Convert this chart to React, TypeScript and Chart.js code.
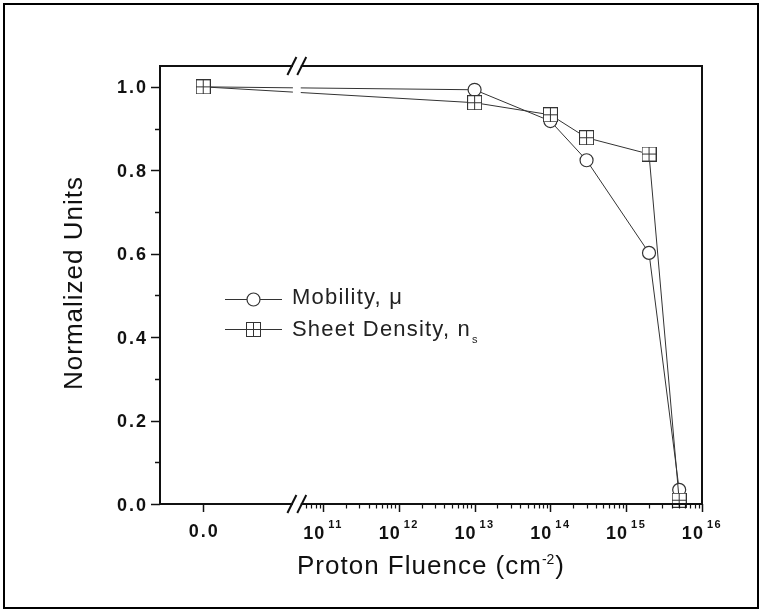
import React, { useEffect, useRef } from 'react';
import { Chart, registerables } from 'chart.js';

Chart.register(...registerables);

// ---- data ----
const fluence = [0, 1e13, 1e14, 3e14, 2e15, 5e15];
const mobility = [1.0, 0.993, 0.918, 0.824, 0.602, 0.034];
const sheetDensity = [1.0, 0.962, 0.933, 0.878, 0.839, 0.009];

const yMajorTicks = [0, 0.2, 0.4, 0.6, 0.8, 1.0];
const yMinorTicks = [0.1, 0.3, 0.5, 0.7, 0.9];
const xDecades = [11, 12, 13, 14, 15, 16];
const xZeroLabel = '0.0';
const seriesNames = ['Mobility, \u03bc', 'Sheet Density, n'];
const seriesSubscripts = ['', 's'];
const xTitle = 'Proton Fluence (cm';
const xTitleSup = '-2';
const yTitle = 'Normalized Units';

// ---- broken axis mapping: zero segment + log10 segment on one linear scale ----
const X_MIN = 8.85;
const X_MAX = 16.0;
const ZERO_AT = 9.42;
const BREAK_LO = 10.59;
const BREAK_HI = 10.72;
const Y_MIN = 0;
const Y_MAX = 1.05;
const toAxis = (f: number) => (f === 0 ? ZERO_AT : Math.log10(f));

const FONT = "'Liberation Sans', Arial, Helvetica, sans-serif";
const LINE = '#333333';

function makeCrossSquare(size: number) {
  const c = document.createElement('canvas');
  c.width = size;
  c.height = size;
  const g = c.getContext('2d')!;
  g.fillStyle = '#ffffff';
  g.fillRect(0.5, 0.5, size - 1, size - 1);
  g.strokeStyle = LINE;
  g.lineWidth = 1;
  g.strokeRect(0.5, 0.5, size - 1, size - 1);
  const m = Math.floor(size / 2) + 0.5;
  g.beginPath();
  g.moveTo(m, 0.5);
  g.lineTo(m, size - 0.5);
  g.moveTo(0.5, m);
  g.lineTo(size - 0.5, m);
  g.stroke();
  return c;
}

export default function App() {
  const ref = useRef<HTMLCanvasElement | null>(null);

  useEffect(() => {
    const canvas = ref.current!;
    const crossSquare = makeCrossSquare(15);

    const decor = {
      id: 'decor',
      afterDatasetsDraw(chart: any) {
        const ctx = chart.ctx as CanvasRenderingContext2D;
        const xs = chart.scales.x;
        const ys = chart.scales.y;
        const { left, right, top, bottom } = chart.chartArea;
        ctx.save();

        // axes box
        ctx.strokeStyle = '#111';
        ctx.lineWidth = 2;
        ctx.beginPath();
        ctx.moveTo(left, top);
        ctx.lineTo(right, top);
        ctx.lineTo(right, bottom);
        ctx.lineTo(left, bottom);
        ctx.closePath();
        ctx.stroke();

        // break gap
        const bx0 = xs.getPixelForValue(BREAK_LO);
        const bx1 = xs.getPixelForValue(BREAK_HI);
        ctx.fillStyle = '#ffffff';
        ctx.fillRect(bx0 + 1, top - 3, bx1 - bx0 - 2, bottom - top + 6);

        // break slashes
        ctx.strokeStyle = '#111';
        ctx.lineWidth = 2;
        for (const yy of [top, bottom]) {
          for (const bx of [bx0, bx1]) {
            ctx.beginPath();
            ctx.moveTo(bx - 4.5, yy + 9);
            ctx.lineTo(bx + 4.5, yy - 9);
            ctx.stroke();
          }
        }

        // y ticks
        ctx.lineWidth = 1.5;
        ctx.strokeStyle = '#111';
        for (const v of yMajorTicks) {
          const y = Math.round(ys.getPixelForValue(v)) + 0.5;
          ctx.beginPath();
          ctx.moveTo(left - 9, y);
          ctx.lineTo(left, y);
          ctx.stroke();
        }
        for (const v of yMinorTicks) {
          const y = Math.round(ys.getPixelForValue(v)) + 0.5;
          ctx.beginPath();
          ctx.moveTo(left - 5, y);
          ctx.lineTo(left, y);
          ctx.stroke();
        }

        // x ticks
        const majors = [ZERO_AT, ...xDecades];
        for (const u of majors) {
          const x = Math.round(xs.getPixelForValue(u)) + 0.5;
          ctx.beginPath();
          ctx.moveTo(x, bottom);
          ctx.lineTo(x, bottom + 8);
          ctx.stroke();
        }
        ctx.lineWidth = 1.2;
        for (let n = 10; n < 16; n++) {
          for (let k = 2; k <= 9; k++) {
            const u = Math.log10(k) + n;
            if (u < BREAK_HI + 0.04 || u > X_MAX) continue;
            const x = Math.round(xs.getPixelForValue(u)) + 0.5;
            ctx.beginPath();
            ctx.moveTo(x, bottom);
            ctx.lineTo(x, bottom + 4.5);
            ctx.stroke();
          }
        }

        // y tick labels
        ctx.fillStyle = '#111';
        ctx.font = `bold 18px ${FONT}`;
        (ctx as any).letterSpacing = '2px';
        ctx.textAlign = 'right';
        ctx.textBaseline = 'alphabetic';
        for (const v of yMajorTicks) {
          const y = ys.getPixelForValue(v);
          ctx.fillText(v.toFixed(1), left - 12, y + 6.5);
        }

        // x tick labels
        ctx.textAlign = 'left';
        ctx.font = `bold 18px ${FONT}`;
        (ctx as any).letterSpacing = '2px';
        const zw = ctx.measureText(xZeroLabel).width;
        ctx.fillText(xZeroLabel, xs.getPixelForValue(ZERO_AT) - zw / 2 + 1, bottom + 33);
        for (const d of xDecades) {
          const px = xs.getPixelForValue(d);
          ctx.font = `bold 18px ${FONT}`;
          (ctx as any).letterSpacing = '1px';
          const wb = ctx.measureText('10').width;
          ctx.font = `bold 11px ${FONT}`;
          (ctx as any).letterSpacing = '1.5px';
          const sup = String(d);
          const ws = ctx.measureText(sup).width;
          const gap = 3;
          const x0 = px - (wb + gap + ws) / 2;
          ctx.font = `bold 18px ${FONT}`;
          (ctx as any).letterSpacing = '1px';
          ctx.fillText('10', x0, bottom + 35);
          ctx.font = `bold 11px ${FONT}`;
          (ctx as any).letterSpacing = '1.5px';
          ctx.fillText(sup, x0 + wb + gap, bottom + 24);
        }

        // axis titles
        ctx.fillStyle = '#111';
        ctx.font = `26px ${FONT}`;
        (ctx as any).letterSpacing = '1px';
        const t1 = ctx.measureText(xTitle).width;
        ctx.font = `14px ${FONT}`;
        (ctx as any).letterSpacing = '0px';
        const t2 = ctx.measureText(xTitleSup).width;
        ctx.font = `26px ${FONT}`;
        (ctx as any).letterSpacing = '1px';
        const t3 = ctx.measureText(')').width;
        const cx = (left + right) / 2;
        let tx = cx - (t1 + t2 + 1 + t3) / 2;
        const tb = bottom + 70;
        ctx.fillText(xTitle, tx, tb);
        tx += t1;
        ctx.font = `14px ${FONT}`;
        (ctx as any).letterSpacing = '0px';
        ctx.fillText(xTitleSup, tx, tb - 10);
        tx += t2 + 1;
        ctx.font = `26px ${FONT}`;
        (ctx as any).letterSpacing = '1px';
        ctx.fillText(')', tx, tb);

        ctx.save();
        ctx.translate(82, (top + bottom) / 2 - 2);
        ctx.rotate(-Math.PI / 2);
        ctx.textAlign = 'center';
        ctx.fillText(yTitle, 0, 0);
        ctx.restore();

        // legend
        const legendRows = [
          { y: 299.5, base: 304, kind: 'circle' },
          { y: 329.5, base: 335.5, kind: 'square' },
        ];
        legendRows.forEach((row, i) => {
          ctx.strokeStyle = LINE;
          ctx.lineWidth = 1;
          ctx.beginPath();
          ctx.moveTo(225, row.y);
          ctx.lineTo(282, row.y);
          ctx.stroke();
          if (row.kind === 'circle') {
            ctx.beginPath();
            ctx.arc(253.5, row.y, 6.5, 0, Math.PI * 2);
            ctx.fillStyle = '#fff';
            ctx.fill();
            ctx.lineWidth = 1.2;
            ctx.stroke();
          } else {
            ctx.drawImage(crossSquare, 253.5 - 7.5, row.y - 7.5);
          }
          ctx.fillStyle = '#222';
          ctx.font = `22px ${FONT}`;
          (ctx as any).letterSpacing = '1.2px';
          ctx.textAlign = 'left';
          ctx.fillText(seriesNames[i], 292, row.base);
          if (seriesSubscripts[i]) {
            const w = ctx.measureText(seriesNames[i]).width;
            ctx.font = `11px ${FONT}`;
            (ctx as any).letterSpacing = '0px';
            ctx.fillText(seriesSubscripts[i], 292 + w + 1, row.base + 7);
          }
        });

        // outer frame
        (ctx as any).letterSpacing = '0px';
        ctx.strokeStyle = '#000';
        ctx.lineWidth = 2;
        ctx.strokeRect(4, 4, 754, 604);

        ctx.restore();
      },
    };

    const chart = new Chart(canvas, {
      type: 'scatter',
      data: {
        datasets: [
          {
            label: seriesNames[0],
            data: fluence.map((f, i) => ({ x: toAxis(f), y: mobility[i] })),
            showLine: true,
            borderColor: LINE,
            borderWidth: 1,
            pointStyle: 'circle',
            pointRadius: 6.5,
            pointBackgroundColor: '#ffffff',
            pointBorderColor: LINE,
            pointBorderWidth: 1.2,
            clip: false as any,
            order: 2,
          },
          {
            label: seriesNames[1] + seriesSubscripts[1],
            data: fluence.map((f, i) => ({ x: toAxis(f), y: sheetDensity[i] })),
            showLine: true,
            borderColor: LINE,
            borderWidth: 1,
            pointStyle: crossSquare as any,
            pointRadius: 7.5,
            clip: false as any,
            order: 1,
          },
        ],
      },
      options: {
        responsive: false,
        animation: false,
        devicePixelRatio: 1,
        events: [],
        layout: { padding: { left: 160, right: 62, top: 66, bottom: 109 } },
        plugins: { legend: { display: false }, tooltip: { enabled: false } },
        scales: {
          x: { type: 'linear', min: X_MIN, max: X_MAX, display: false },
          y: { type: 'linear', min: Y_MIN, max: Y_MAX, display: false },
        },
      },
      plugins: [decor],
    });

    return () => chart.destroy();
  }, []);

  return (
    <div style={{ position: 'fixed', left: 0, top: 0, width: 764, height: 613, background: '#fff' }}>
      <canvas ref={ref} width={764} height={613} style={{ display: 'block', width: 764, height: 613 }} />
    </div>
  );
}
